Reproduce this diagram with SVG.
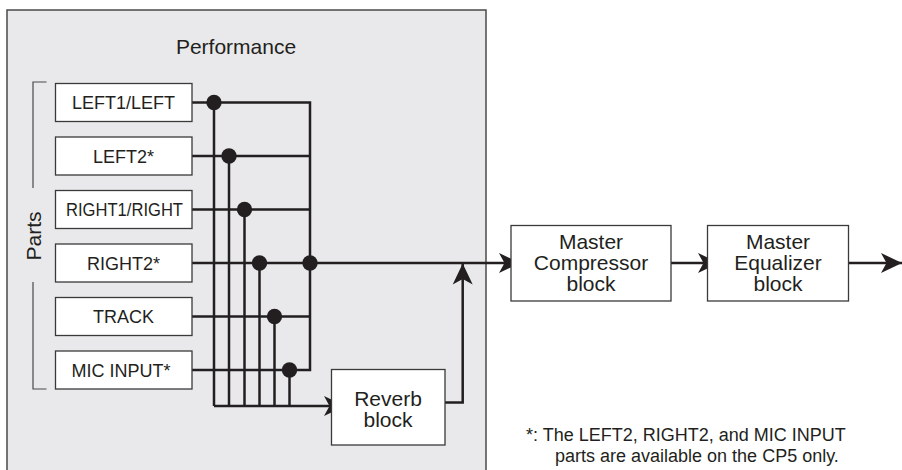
<svg xmlns="http://www.w3.org/2000/svg" width="902" height="470" viewBox="0 0 902 470">
<style>
text{font-family:"Liberation Sans",Arial,Helvetica,sans-serif;fill:#231f20}
.part{font-size:18px;text-anchor:middle}
.blk{font-size:21px;text-anchor:middle}
.box{fill:#fff;stroke:#3a3a3a;stroke-width:1.3}
.ln{fill:none;stroke:#231f20;stroke-width:2.5}
.dot{fill:#231f20}
.br{fill:none;stroke:#4a4a4a;stroke-width:1.2}
</style>
<defs>
<marker id="ah" markerUnits="userSpaceOnUse" markerWidth="24" markerHeight="22" viewBox="-22 -11 24 22" refX="0" refY="0" orient="auto">
<path d="M0,0 L-21,-10 L-15.5,0 L-21,10 Z" fill="#231f20"/>
</marker>
</defs>
<g id="performance">
<rect x="7" y="10" width="479" height="470" fill="#e9e9eb" stroke="#4a4a4a" stroke-width="1.5"/>
<text x="236" y="54" style="font-size:21px;text-anchor:middle">Performance</text>
</g>
<g id="parts-label">
<path class="br" d="M46.5,82 H33 V188 M33,282 V389 H46.5"/>
<text transform="translate(41,236) rotate(-90)" style="font-size:21px;text-anchor:middle">Parts</text>
</g>
<g id="connectors">
<path class="ln" d="M192,102.5 H310 V370 H192"/>
<path class="ln" d="M192,156 H310 M192,209.5 H310 M192,316.5 H310"/>
<path class="ln" d="M214,102.5 V406 M229,156 V406 M244.5,209.5 V406 M259.5,263 V406 M274.5,316.5 V406 M289.5,370 V406"/>
<path class="ln" d="M214,406 H345" marker-end="url(#ah)"/>
<path class="ln" d="M192,263 H520" marker-end="url(#ah)"/>
<path class="ln" d="M445,402.5 H462.7 V263.5" marker-end="url(#ah)"/>
<path class="ln" d="M671,263 H719" marker-end="url(#ah)"/>
<path class="ln" d="M849,263 H902" marker-end="url(#ah)"/>
<circle class="dot" cx="214" cy="102.5" r="7.7"/>
<circle class="dot" cx="229" cy="156" r="7.7"/>
<circle class="dot" cx="244.5" cy="209.5" r="7.7"/>
<circle class="dot" cx="259.5" cy="263" r="7.7"/>
<circle class="dot" cx="274.5" cy="316.5" r="7.7"/>
<circle class="dot" cx="289.5" cy="370" r="7.7"/>
<circle class="dot" cx="310" cy="263" r="7.7"/>
</g>
<g id="left1"><rect class="box" x="55.5" y="83.5" width="136.5" height="38"/><text class="part" x="123.5" y="109">LEFT1/LEFT</text></g>
<g id="left2"><rect class="box" x="55.5" y="137" width="136.5" height="38"/><text class="part" x="123.5" y="162.5">LEFT2*</text></g>
<g id="right1"><rect class="box" x="55.5" y="190.5" width="136.5" height="38"/><text class="part" x="124.5" y="216" textLength="117" lengthAdjust="spacingAndGlyphs">RIGHT1/RIGHT</text></g>
<g id="right2"><rect class="box" x="55.5" y="244" width="136.5" height="38"/><text class="part" x="123.5" y="269.5">RIGHT2*</text></g>
<g id="track"><rect class="box" x="55.5" y="297.5" width="136.5" height="38"/><text class="part" x="123.5" y="323">TRACK</text></g>
<g id="mic"><rect class="box" x="55.5" y="351" width="136.5" height="38"/><text class="part" x="121" y="376.5">MIC INPUT*</text></g>
<g id="reverb"><rect class="box" x="331.5" y="369.5" width="113.5" height="75.5"/><text class="blk" x="388" y="405.5">Reverb</text><text class="blk" x="388" y="426.5">block</text></g>
<g id="compressor"><rect class="box" x="511" y="225.5" width="160" height="75.5"/><text class="blk" x="591" y="248.5">Master</text><text class="blk" x="591" y="270">Compressor</text><text class="blk" x="591" y="291">block</text></g>
<g id="equalizer"><rect class="box" x="707.5" y="225.5" width="141" height="75.5"/><text class="blk" x="778" y="248.5">Master</text><text class="blk" x="778" y="270">Equalizer</text><text class="blk" x="778" y="291">block</text></g>
<g id="footnote">
<text x="526" y="441" style="font-size:18px">*: The LEFT2, RIGHT2, and MIC INPUT</text>
<text x="555" y="462" style="font-size:18px">parts are available on the CP5 only.</text>
</g>
</svg>
